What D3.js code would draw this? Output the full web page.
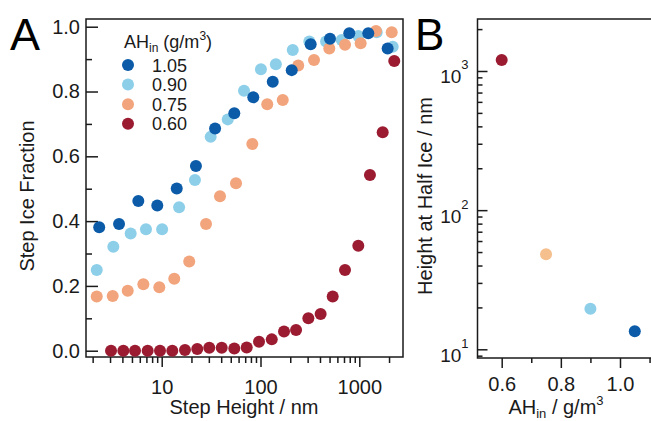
<!DOCTYPE html>
<html><head><meta charset="utf-8">
<script src="https://cdn.jsdelivr.net/npm/d3@7"></script>
<style>
body{margin:0;background:#fff;}
svg{display:block;font-family:"Liberation Sans",Arial,sans-serif;}
</style></head>
<body><svg id="c" width="651" height="421"></svg>
<script>
// ---------- Data ----------
const seriesLabels = ["1.05", "0.90", "0.75", "0.60"];
const seriesColors = ["#0b5ba8", "#8dcfe9", "#f2a47c", "#9b1b31"];

const h105 = [2.33, 3.70, 5.80, 9.02, 14.2, 22.2, 34.7, 54.3, 84.5, 133, 207, 322, 505, 792, 1233, 1936];
const f105 = [0.381, 0.391, 0.462, 0.448, 0.501, 0.570, 0.686, 0.733, 0.782, 0.830, 0.866, 0.946, 0.963, 0.980, 0.980, 0.933];

const h090 = [2.20, 3.24, 4.85, 6.93, 10.1, 15.0, 21.7, 31.3, 46.6, 68.1, 101, 143, 212, 312, 461, 663, 978, 1500, 2178];
const f090 = [0.249, 0.321, 0.362, 0.375, 0.375, 0.443, 0.527, 0.660, 0.714, 0.802, 0.869, 0.884, 0.928, 0.954, 0.954, 0.959, 0.971, 0.983, 0.938];

const h075 = [2.20, 3.19, 4.53, 6.52, 9.46, 13.4, 19.0, 28.1, 38.9, 56.5, 82.6, 117, 168, 241, 348, 497, 717, 1032, 1475, 2128];
const f075 = [0.167, 0.169, 0.185, 0.205, 0.196, 0.222, 0.275, 0.391, 0.477, 0.517, 0.638, 0.761, 0.774, 0.880, 0.897, 0.933, 0.944, 0.949, 0.987, 0.983];

const h060 = [3.07, 4.09, 5.37, 7.21, 9.61, 12.8, 17.2, 22.9, 30.3, 40.5, 54.3, 72.5, 96.6, 130, 173, 229, 305, 406, 538, 717, 977, 1282, 1725, 2259];
const f060 = [0, 0, 0, 0, 0, 0, 0.002, 0.005, 0.009, 0.009, 0.007, 0.010, 0.028, 0.035, 0.059, 0.064, 0.100, 0.113, 0.167, 0.249, 0.324, 0.542, 0.674, 0.894];

const ahValues = [0.60, 0.75, 0.90, 1.05];
const halfHeights = [1200, 48.2, 19.6, 13.5];
const halfColors = ["#9b1b31", "#f5c08e", "#8dcfe9", "#0b5ba8"];

const yTicksA = [0, 0.2, 0.4, 0.6, 0.8, 1.0];
const yMinorA = [0.1, 0.3, 0.5, 0.7, 0.9];
const xTicksA = [10, 100, 1000];
const xTicksB = [0.6, 0.8, 1.0];
const xMinorB = [0.7, 0.9, 1.1];
const yTicksB = [10, 100, 1000];

// ---------- Setup ----------
const svg = d3.select("#c");
const ink = "#1a1a1a";
const R = 6;

// Panel A geometry
const A = {l: 86, r: 403, t: 19, b: 357};
const xA = d3.scaleLog().domain([1.713, 2769]).range([A.l, A.r]);
const yA = d3.scaleLinear().domain([-0.0194, 1.0238]).range([A.b, A.t]);

// Panel B geometry
const B = {l: 477.5, r: 662, t: 19, b: 358};
const xB = d3.scaleLinear().domain([0.5182, 0.5182 + (B.r - B.l) / 295.75]).range([B.l, B.r]);
const yB = d3.scaleLog().domain([8.66, 2364]).range([B.b, B.t]);

function styleAxis(g, fs) {
  g.select(".domain").remove();
  g.selectAll(".tick line").attr("stroke", ink).attr("stroke-width", 1.5);
  g.selectAll(".tick text").attr("fill", ink).attr("font-size", fs).attr("font-family", "Liberation Sans, Arial, sans-serif");
}

// ----- Panel A axes -----
const minorXA = [];
[1, 10, 100, 1000].forEach(d => { for (let k = 2; k <= 9; k++) { const v = d * k; if (v > 1.713 && v < 2769) minorXA.push(v); } });

svg.append("g").attr("transform", `translate(0,${A.b})`)
  .call(d3.axisBottom(xA).tickValues(minorXA).tickSize(6).tickFormat(""))
  .call(g => styleAxis(g, 20));
svg.append("g").attr("transform", `translate(0,${A.b})`)
  .call(d3.axisBottom(xA).tickValues(xTicksA).tickSize(10).tickPadding(13).tickFormat(d3.format("d")))
  .call(g => styleAxis(g, 20));

svg.append("g").attr("transform", `translate(${A.l},0)`)
  .call(d3.axisLeft(yA).tickValues(yMinorA).tickSize(-6).tickFormat(""))
  .call(g => styleAxis(g, 20));
svg.append("g").attr("transform", `translate(${A.l},0)`)
  .call(d3.axisLeft(yA).tickValues(yTicksA).tickSize(-12).tickPadding(6).tickFormat(d3.format(".1f")))
  .call(g => styleAxis(g, 20));

svg.append("rect").attr("x", A.l).attr("y", A.t).attr("width", A.r - A.l).attr("height", A.b - A.t)
  .attr("fill", "none").attr("stroke", ink).attr("stroke-width", 1.5);

// ----- Panel A points -----
const seriesA = [
  {h: h090, f: f090, c: seriesColors[1]},
  {h: h075, f: f075, c: seriesColors[2]},
  {h: h105, f: f105, c: seriesColors[0]},
  {h: h060, f: f060, c: seriesColors[3]}
];
seriesA.forEach(s => {
  svg.append("g").selectAll("circle").data(s.h.map((h, i) => [h, s.f[i]])).join("circle")
    .attr("cx", d => xA(d[0])).attr("cy", d => yA(d[1])).attr("r", R).attr("fill", s.c);
});

// Legend
const leg = svg.append("g");
const lt = leg.append("text").attr("x", 124).attr("y", 48).attr("font-size", 18).attr("fill", ink);
lt.append("tspan").text("AH");
lt.append("tspan").attr("font-size", 12).attr("dy", 4).text("in");
lt.append("tspan").attr("dy", -4).text(" (g/m");
lt.append("tspan").attr("font-size", 12).attr("dy", -8).text("3");
lt.append("tspan").attr("dy", 8).text(")");
seriesLabels.forEach((lab, i) => {
  const cy = 65 + i * 19.6;
  leg.append("circle").attr("cx", 128).attr("cy", cy).attr("r", R).attr("fill", seriesColors[i]);
  leg.append("text").attr("x", 152).attr("y", cy + 6.5).attr("font-size", 18).attr("fill", ink).text(lab);
});

// Axis titles A
svg.append("text").attr("transform", "translate(34,196) rotate(-90)").attr("text-anchor", "middle")
  .attr("font-size", 20).attr("fill", ink).text("Step Ice Fraction");
svg.append("text").attr("x", 244).attr("y", 414).attr("text-anchor", "middle")
  .attr("font-size", 20).attr("fill", ink).text("Step Height / nm");
svg.append("text").attr("x", 10).attr("y", 50).attr("font-size", 45).attr("fill", "#000").text("A");

// ----- Panel B axes -----
const minorYB = [];
[1, 10, 100, 1000].forEach(d => { for (let k = 2; k <= 9; k++) { const v = d * k; if (v > 8.66 && v < 2364) minorYB.push(v); } });

svg.append("g").attr("transform", `translate(${B.l},0)`)
  .call(d3.axisLeft(yB).tickValues(minorYB).tickSize(-5).tickFormat(""))
  .call(g => styleAxis(g, 19));
const yaxB = svg.append("g").attr("transform", `translate(${B.l},0)`)
  .call(d3.axisLeft(yB).tickValues(yTicksB).tickSize(-10).tickPadding(9).tickFormat(d => Math.round(Math.log10(d))))
  .call(g => styleAxis(g, 19));
yaxB.selectAll(".tick text").each(function() {
  const t = d3.select(this); const e = t.text();
  t.text(null).attr("dy", null).attr("y", 12);
  t.append("tspan").text("10");
  t.append("tspan").attr("font-size", 13).attr("dy", -14).text(e);
});

svg.append("g").attr("transform", `translate(0,${B.b})`)
  .call(d3.axisBottom(xB).tickValues(xMinorB).tickSize(5).tickFormat(""))
  .call(g => styleAxis(g, 20));
svg.append("g").attr("transform", `translate(0,${B.b})`)
  .call(d3.axisBottom(xB).tickValues(xTicksB).tickSize(10).tickPadding(9).tickFormat(d3.format(".1f")))
  .call(g => styleAxis(g, 20));

svg.append("rect").attr("x", B.l).attr("y", B.t).attr("width", B.r - B.l).attr("height", B.b - B.t)
  .attr("fill", "none").attr("stroke", ink).attr("stroke-width", 1.5);

svg.append("g").selectAll("circle").data(ahValues.map((a, i) => [a, halfHeights[i], halfColors[i]])).join("circle")
  .attr("cx", d => xB(d[0])).attr("cy", d => yB(d[1])).attr("r", R).attr("fill", d => d[2]);

svg.append("text").attr("transform", "translate(432,196) rotate(-90)").attr("text-anchor", "middle")
  .attr("font-size", 20).attr("fill", ink).text("Height at Half Ice / nm");
const bx = svg.append("text").attr("x", 556).attr("y", 414).attr("text-anchor", "middle")
  .attr("font-size", 20).attr("fill", ink);
bx.append("tspan").text("AH");
bx.append("tspan").attr("font-size", 13).attr("dy", 4).text("in");
bx.append("tspan").attr("dy", -4).text(" / g/m");
bx.append("tspan").attr("font-size", 13).attr("dy", -9).text("3");
svg.append("text").attr("x", 415).attr("y", 50).attr("font-size", 44).attr("fill", "#000").text("B");
</script></body></html>
